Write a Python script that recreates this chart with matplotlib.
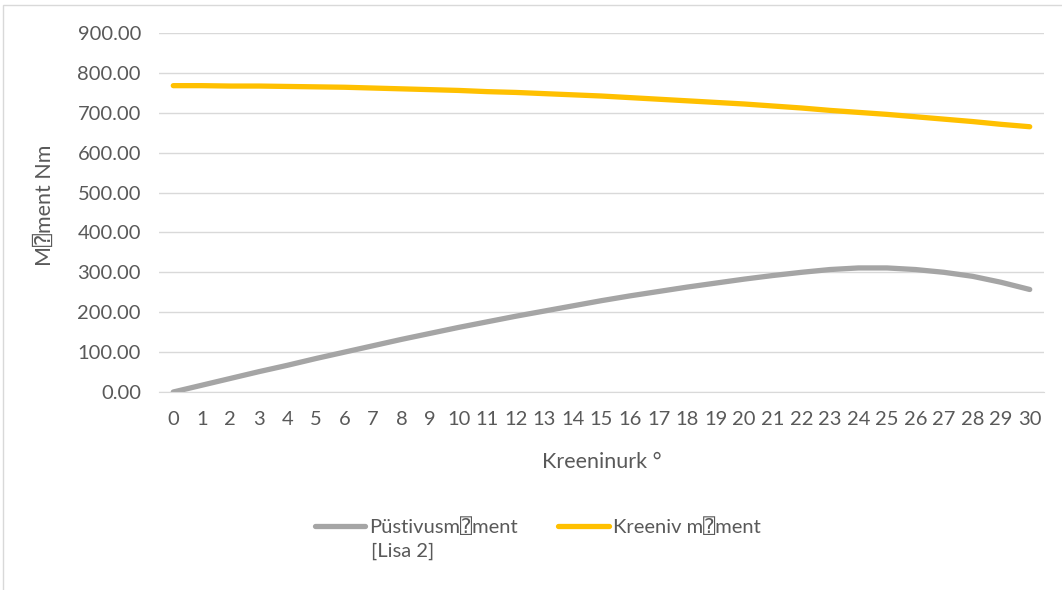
import matplotlib
matplotlib.use("Agg")
import matplotlib.pyplot as plt
from matplotlib.patches import Rectangle

# Data

angles = list(range(0, 31))

righting_moment = [0, 17, 34, 51, 67, 84, 100, 116, 132, 147,
                   162, 176, 190, 203, 216, 229, 241, 252, 263, 273,
                   283, 292, 300, 307, 311, 311, 307, 300, 290, 275, 257]

heeling_moment = [768, 768, 767, 767, 766, 765, 764, 762, 760, 758,
                  756, 753, 751, 748, 745, 742, 738, 734, 730, 726,
                  722, 717, 712, 706, 701, 696, 690, 684, 678, 671, 665]

y_ticks = [0, 100, 200, 300, 400, 500, 600, 700, 800, 900]

label_righting = "Püstivusm\u2370ment"
label_righting_note = "[Lisa 2]"
label_heeling = "Kreeniv m\u2370ment"
x_title = "Kreeninurk °"
y_title = "M\u2370ment Nm"


# Style

plt.rcParams["font.family"] = ["Lato", "DejaVu Sans", "DejaVu Sans Mono"]
TEXT = "#595959"
GRID = "#d9d9d9"
GRAY = "#a5a5a5"
YELLOW = "#ffc000"
FS = 14.5


def main():
    W, H = 1062, 590
    fig = plt.figure(figsize=(W / 100, H / 100), dpi=100)

    # outer chart border (left/top visible)
    fig.patches.append(Rectangle((3 / W, -0.01), 1.02, 1 - 5 / H + 0.01,
                                 transform=fig.transFigure, fill=False,
                                 edgecolor=GRID, lw=1))

    ax = fig.add_axes([159 / W, 1 - 392 / H, (1044 - 159) / W, (392 - 33) / H])

    ax.plot(angles, righting_moment, color=GRAY, lw=3.8,
            solid_capstyle="round", label=label_righting)
    ax.plot(angles, heeling_moment, color=YELLOW, lw=3.8,
            solid_capstyle="round", label=label_heeling)

    ax.set_xlim(-0.5, 30.5)
    ax.set_ylim(0, 900)
    ax.set_xticks(angles)
    ax.set_xticklabels([str(a) for a in angles])
    ax.set_yticks(y_ticks)
    ax.set_yticklabels([f"{v:.2f}" for v in y_ticks])

    ax.grid(axis="y", color=GRID, lw=1)
    ax.set_axisbelow(True)
    for s in ["top", "right", "left"]:
        ax.spines[s].set_visible(False)
    ax.spines["bottom"].set_color(GRID)
    ax.tick_params(axis="both", length=0, labelsize=FS, colors=TEXT)
    ax.tick_params(axis="x", pad=14)
    ax.tick_params(axis="y", pad=13)

    ax.set_xlabel(x_title, fontsize=FS + 1, color=TEXT, va="center")
    ax.xaxis.set_label_coords((602 - 159) / 885, (392 - 462) / 359)
    ax.set_ylabel(y_title, fontsize=FS + 1, color=TEXT, va="center")
    ax.yaxis.set_label_coords((45 - 159) / 885, (392 - 205) / 359)

    leg = fig.legend(loc="center left", bbox_to_anchor=(305 / W, 1 - 527 / H),
                     ncol=2, frameon=False, fontsize=FS, handlelength=2.5,
                     handletextpad=0.2, columnspacing=2.0, borderpad=0)
    for t in leg.get_texts():
        t.set_color(TEXT)

    fig.text(371 / W, 1 - 551 / H, label_righting_note, fontsize=FS,
             color=TEXT, ha="left", va="center")

    fig.savefig("out.png", dpi=100)
    plt.close(fig)


if __name__ == "__main__":
    main()
